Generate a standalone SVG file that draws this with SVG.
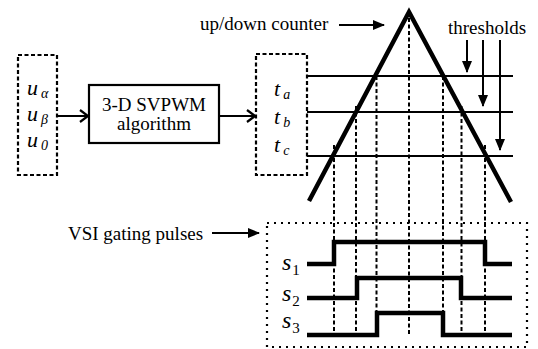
<svg xmlns="http://www.w3.org/2000/svg" width="538" height="349" viewBox="0 0 538 349" font-family="'Liberation Serif', 'DejaVu Serif', serif">
<style>
text{font-family:'Liberation Serif','DejaVu Serif',serif;fill:#000}
.lbl{font-size:19px}
.it{font-style:italic}
.box{fill:none;stroke:#000;stroke-width:2.2;stroke-dasharray:4,2.5}
.solid{fill:#fff;stroke:#000;stroke-width:2.2}
.thr{fill:none;stroke:#000;stroke-width:2}
.tri{fill:none;stroke:#000;stroke-width:4.5;stroke-linejoin:miter}
.vd{fill:none;stroke:#000;stroke-width:2;stroke-dasharray:4,2.5}
.sig{fill:none;stroke:#000;stroke-width:4.5;stroke-linejoin:miter}
.dot{fill:none;stroke:#000;stroke-width:2.2;stroke-dasharray:2,5}
.ln{fill:none;stroke:#000;stroke-width:2}
</style>
<defs>
<marker id="fa" markerWidth="12" markerHeight="10" refX="11" refY="5" orient="auto" markerUnits="userSpaceOnUse">
<path d="M0,0 L12,5 L0,10 Z" fill="#000"/>
</marker>
<marker id="oa" markerWidth="12" markerHeight="14" refX="10" refY="7" orient="auto" markerUnits="userSpaceOnUse">
<path d="M2,1 L10,7 L2,13" fill="none" stroke="#000" stroke-width="2.2"/>
</marker>
</defs>

<g id="input">
<rect class="box" x="18" y="55" width="39" height="120"/>
<text class="it" x="27" y="95" font-size="22">u<tspan font-size="14" dx="3" dy="3">α</tspan></text>
<text class="it" x="27" y="121" font-size="22">u<tspan font-size="14" dx="3" dy="3">β</tspan></text>
<text class="it" x="27" y="147" font-size="22">u<tspan font-size="14" dx="3" dy="3">0</tspan></text>
</g>

<g id="svpwm">
<rect class="solid" x="89" y="85" width="130" height="58"/>
<text class="lbl" x="154" y="111" text-anchor="middle">3-D SVPWM</text>
<text class="lbl" x="154" y="130" text-anchor="middle">algorithm</text>
</g>

<g id="times">
<rect class="box" x="256" y="54" width="51" height="121"/>
<text class="it" x="274" y="96" font-size="22">t<tspan font-size="14" dx="3" dy="3">a</tspan></text>
<text class="it" x="274" y="124" font-size="22">t<tspan font-size="14" dx="3" dy="3">b</tspan></text>
<text class="it" x="274" y="152" font-size="22">t<tspan font-size="14" dx="3" dy="3">c</tspan></text>
</g>

<g id="counter">
<line class="thr" x1="307" y1="76" x2="513" y2="76"/>
<line class="thr" x1="307" y1="112" x2="513" y2="112"/>
<line class="thr" x1="307" y1="156" x2="513" y2="156"/>
<polyline class="tri" points="309,201 409,12 511,202"/>
<text class="lbl" x="200" y="30">up/down counter</text>
<text class="lbl" x="448" y="34">thresholds</text>
</g>

<g id="pulses">
<rect class="dot" x="267" y="223" width="260" height="124"/>
<text class="lbl" x="68" y="240">VSI gating pulses</text>
<polyline class="sig" points="307,264 334,264 334,242 485,242 485,264 512,264"/>
<polyline class="sig" points="307,298 357,298 357,278 461,278 461,298 512,298"/>
<polyline class="sig" points="307,335 377,335 377,313 443,313 443,335 512,335"/>
<text class="it" x="282" y="270" font-size="24">s<tspan font-size="15" font-style="normal" dx="1" dy="5">1</tspan></text>
<text class="it" x="282" y="301" font-size="24">s<tspan font-size="15" font-style="normal" dx="1" dy="5">2</tspan></text>
<text class="it" x="282" y="328" font-size="24">s<tspan font-size="15" font-style="normal" dx="1" dy="5">3</tspan></text>
</g>

<g id="connectors">
<line class="ln" x1="57" y1="116" x2="88" y2="116" marker-end="url(#oa)"/>
<line class="ln" x1="219" y1="116" x2="255" y2="116" marker-end="url(#oa)"/>
<line class="ln" x1="339" y1="25" x2="384" y2="25" marker-end="url(#fa)"/>
<line class="ln" x1="212" y1="233" x2="259" y2="233" marker-end="url(#fa)"/>
<line class="ln" x1="467" y1="40" x2="467" y2="72" marker-end="url(#fa)"/>
<line class="ln" x1="483" y1="40" x2="483" y2="106" marker-end="url(#fa)"/>
<line class="ln" x1="500" y1="40" x2="500" y2="150" marker-end="url(#fa)"/>
<line class="vd" x1="409" y1="18" x2="409" y2="336"/>
<line class="vd" x1="376.5" y1="76" x2="376.5" y2="334"/>
<line class="vd" x1="356" y1="106" x2="356" y2="334"/>
<line class="vd" x1="334" y1="145" x2="334" y2="334"/>
<line class="vd" x1="443" y1="76" x2="443" y2="334"/>
<line class="vd" x1="461.5" y1="106" x2="461.5" y2="334"/>
<line class="vd" x1="485" y1="145" x2="485" y2="334"/>
</g>
</svg>
